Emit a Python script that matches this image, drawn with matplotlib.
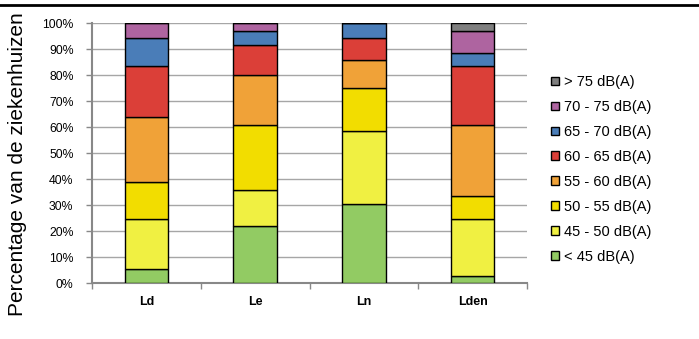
import numpy as np
import matplotlib.pyplot as plt
from matplotlib.lines import Line2D

plt.rcParams['font.family'] = ['Liberation Sans', 'DejaVu Sans']

categories = ['Ld', 'Le', 'Ln', 'Lden']
bands = ['< 45 dB(A)', '45 - 50 dB(A)', '50 - 55 dB(A)', '55 - 60 dB(A)',
         '60 - 65 dB(A)', '65 - 70 dB(A)', '70 - 75 dB(A)', '> 75 dB(A)']
colors = ['#92CB63', '#F0F042', '#F2DD00', '#F0A238',
          '#DB3F38', '#4A7DB8', '#AE64A0', '#7F7F7F']

# percentages per band (rows) for Ld, Le, Ln, Lden
lt45 = [5.5, 21.9, 30.5, 2.8]
b45_50 = [19.3, 14.0, 28.0, 22.0]
b50_55 = [14.0, 24.9, 16.5, 8.7]
b55_60 = [25.2, 19.4, 11.0, 27.3]
b60_65 = [19.5, 11.3, 8.3, 22.7]
b65_70 = [10.8, 5.4, 5.7, 5.3]
b70_75 = [5.7, 3.1, 0.0, 8.1]
gt75 = [0.0, 0.0, 0.0, 3.1]
values = [lt45, b45_50, b50_55, b55_60, b60_65, b65_70, b70_75, gt75]

fig = plt.figure(figsize=(6.99, 3.39), dpi=100)
ax = fig.add_axes([0.1316, 0.1643, 0.6224, 0.7667])

x = np.arange(len(categories))
bottom = np.zeros(len(categories))
handles = []
for vals, col, lab in zip(values, colors, bands):
    vals = np.array(vals)
    ax.bar(x, vals, 0.4, bottom=bottom, color=col, edgecolor='black',
           linewidth=1.0, zorder=3)
    bottom += vals
    handles.append(plt.Rectangle((0, 0), 1, 1, facecolor=col,
                                 edgecolor='black', linewidth=1.0, label=lab))

ax.set_xlim(-0.5, 3.5)
ax.set_ylim(0, 100)
ax.set_yticks(np.arange(0, 101, 10))
ax.set_yticklabels([f'{v}%' for v in range(0, 101, 10)], fontsize=8.8)
ax.set_xticks(x)
ax.set_xticklabels(categories, fontsize=9, fontweight='bold')
ax.set_xticks(np.arange(-0.5, 4, 1), minor=True)
ax.tick_params(axis='x', which='major', length=0, pad=9.5)
ax.tick_params(axis='x', which='minor', length=4, color='#888888', width=1)
ax.tick_params(axis='y', length=4.3, color='#888888', width=1, pad=9)
ax.grid(axis='y', color='#A6A6A6', linewidth=1, zorder=0)
for s in ['top', 'right']:
    ax.spines[s].set_visible(False)
for s in ['left', 'bottom']:
    ax.spines[s].set_color('#888888')
    ax.spines[s].set_linewidth(1.5)

fig.text(18 / 699, 1 - 164 / 339, 'Percentage van de ziekenhuizen',
         rotation=90, fontsize=15, ha='center', va='center')

fig.legend(handles=handles[::-1], loc='center left',
           bbox_to_anchor=(0.77, 0.5), frameon=False, fontsize=10.5,
           handlelength=0.55, handleheight=0.55, handletextpad=0.35,
           labelspacing=0.75)

fig.add_artist(Line2D([0, 1], [0.985, 0.985], color='black', linewidth=2,
                      transform=fig.transFigure))

fig.savefig('out.png', dpi=100)
